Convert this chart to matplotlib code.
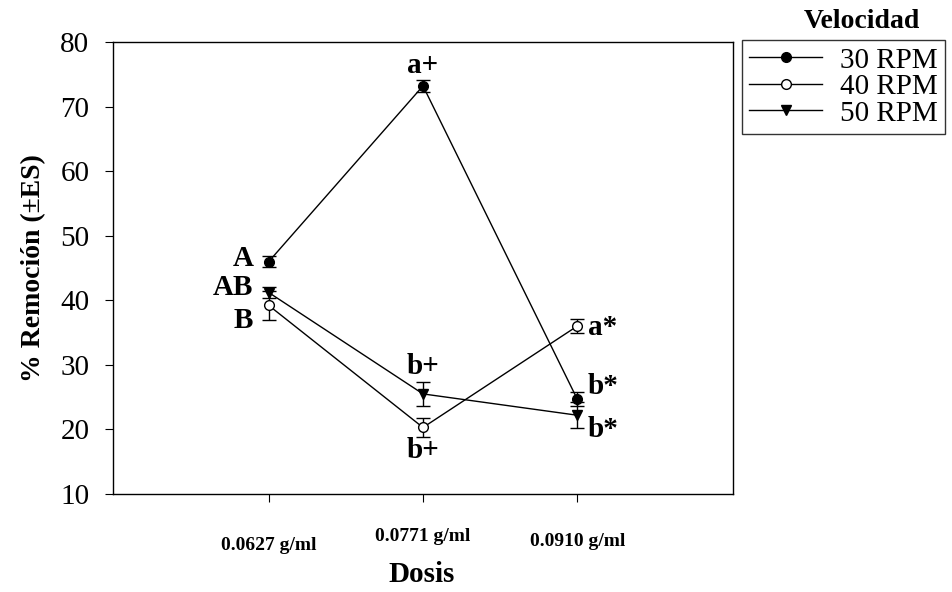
import matplotlib.pyplot as plt
import matplotlib.transforms as mtransforms
from matplotlib.lines import Line2D

plt.rcParams['font.family'] = ['Liberation Serif', 'DejaVu Serif']

doses = ['0.0627 g/ml', '0.0771 g/ml', '0.0910 g/ml']
rpm30 = [46.0, 73.2, 24.7]
rpm30_err = [0.8, 0.9, 1.1]
rpm40 = [39.2, 20.3, 36.0]
rpm40_err = [2.2, 1.5, 1.1]
rpm50 = [41.2, 25.5, 22.2]
rpm50_err = [0.9, 1.8, 2.0]
letters30 = ['A', 'a+', 'b*']
letters40 = ['B', 'b+', 'a*']
letters50 = ['AB', 'b+', 'b*']

x = [0, 1, 2]

fig = plt.figure(figsize=(9.52, 5.92), dpi=100)
ax = fig.add_axes([113 / 952, 98 / 592, 620 / 952, 452 / 592])

common = dict(color='black', lw=1, capsize=5, elinewidth=1, capthick=1)
ax.errorbar(x, rpm30, yerr=rpm30_err, fmt='-o', ms=7, mfc='black', mec='black', **common)
ax.errorbar(x, rpm40, yerr=rpm40_err, fmt='-o', ms=7, mfc='white', mec='black', **common)
ax.errorbar(x, rpm50, yerr=rpm50_err, fmt='-v', ms=7, mfc='black', mec='black', **common)

lbl = dict(fontsize=21, fontweight='bold')
# letters for first dose (left of points)
ax.text(-0.1, rpm30[0] + 0.5, letters30[0], ha='right', va='center', **lbl)
ax.text(-0.1, rpm50[0] + 0.8, letters50[0], ha='right', va='center', **lbl)
ax.text(-0.1, rpm40[0] - 2.3, letters40[0], ha='right', va='center', **lbl)
# second dose
ax.text(1, rpm30[1] + 1.0, letters30[1], ha='center', va='bottom', **lbl)
ax.text(1, rpm50[1] + 2.1, letters50[1], ha='center', va='bottom', **lbl)
ax.text(1, rpm40[1] - 1.4, letters40[1], ha='center', va='top', **lbl)
# third dose (right of points)
ax.text(2.07, rpm40[2] - 0.2, letters40[2], ha='left', va='center', **lbl)
ax.text(2.07, rpm30[2] + 2.0, letters30[2], ha='left', va='center', **lbl)
ax.text(2.07, rpm50[2] - 2.2, letters50[2], ha='left', va='center', **lbl)

ax.set_xlim(-1.01, 3.01)
ax.set_ylim(10, 80)
ax.set_yticks(range(10, 81, 10))
ax.set_xticks(x)
ax.set_xticklabels(doses, fontsize=14, fontweight='bold')
ax.tick_params(axis='x', length=6, pad=20)
ax.tick_params(axis='y', labelsize=21, length=6, pad=11)
# the tick labels are not on one line in the original
for t, dy in zip(ax.get_xticklabels(), [-7, 2, -3]):
    t.set_transform(t.get_transform() + mtransforms.ScaledTranslation(0, dy / 100, fig.dpi_scale_trans))
for s in ax.spines.values():
    s.set_linewidth(1)

ax.set_ylabel('% Remoción (±ES)', fontsize=20, fontweight='bold', labelpad=10)
fig.text(422 / 952, 1 - 575 / 592, 'Dosis', ha='center', va='center', fontsize=21, fontweight='bold')

handles = [
    Line2D([], [], color='black', lw=1, marker='o', ms=7, mfc='black', mec='black', label='30 RPM'),
    Line2D([], [], color='black', lw=1, marker='o', ms=7, mfc='white', mec='black', label='40 RPM'),
    Line2D([], [], color='black', lw=1, marker='v', ms=7, mfc='black', mec='black', label='50 RPM'),
]
leg = fig.legend(handles=handles, loc='upper left', bbox_to_anchor=(742 / 952, 1 - 40 / 592),
                 fontsize=21, frameon=True, fancybox=False, edgecolor='black', handlelength=2.5,
                 borderpad=0.25, labelspacing=0.0, handletextpad=0.6, borderaxespad=0)
leg.get_frame().set_linewidth(1)
fig.text(862 / 952, 1 - 22 / 592, 'Velocidad', ha='center', va='center', fontsize=20, fontweight='bold')

fig.savefig('out.png', dpi=100)
